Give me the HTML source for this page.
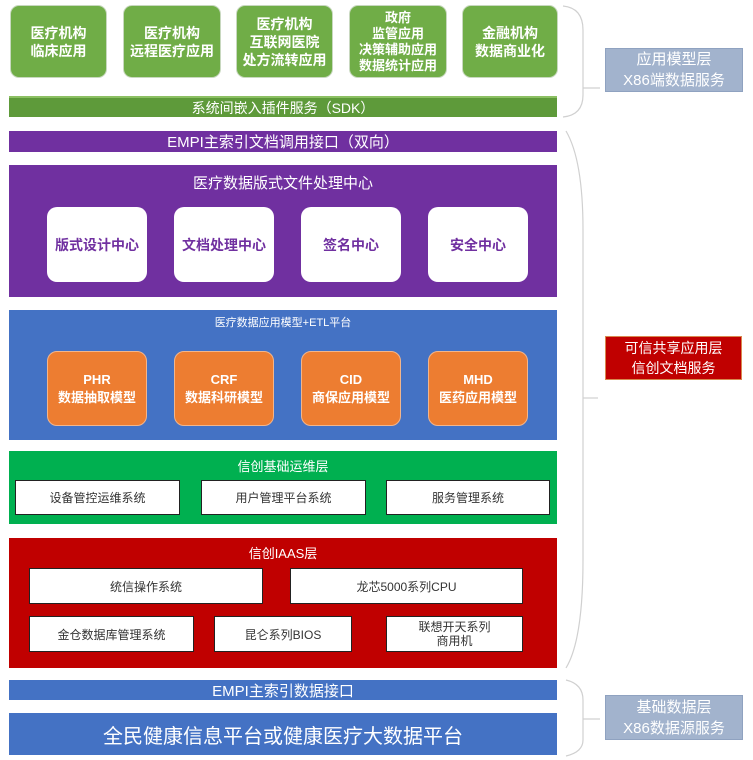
<!DOCTYPE html>
<html><head><meta charset="utf-8"><style>
*{margin:0;padding:0;box-sizing:border-box}
body{width:753px;height:760px;background:#fff;position:relative;overflow:hidden;font-family:"Liberation Sans","Noto Sans CJK SC",sans-serif}
.a{position:absolute;display:flex;align-items:center;justify-content:center;text-align:center}
.g{background:#70ad47;border:1px solid #c8d8bf;border-radius:9px;color:#fff;font-weight:bold;font-size:14px;line-height:18px}
.w{background:#fff;border-radius:10px;color:#7030a0;font-weight:bold;font-size:14px}
.o{background:#ed7d31;border:1px solid #f3b58a;border-radius:10px;color:#fff;font-weight:bold;font-size:13px;line-height:18px}
.b{background:#fff;border:1px solid #222;color:#333;font-size:12px}
.bar{color:#fff}
</style></head><body>
<div class="a g" style="left:10px;top:5px;width:97px;height:73px">医疗机构<br>临床应用</div>
<div class="a g" style="left:123px;top:5px;width:98px;height:73px">医疗机构<br>远程医疗应用</div>
<div class="a g" style="left:236px;top:5px;width:97px;height:73px">医疗机构<br>互联网医院<br>处方流转应用</div>
<div class="a g" style="left:349px;top:5px;width:98px;height:73px;line-height:16px;font-size:13px">政府<br>监管应用<br>决策辅助应用<br>数据统计应用</div>
<div class="a g" style="left:462px;top:5px;width:96px;height:73px">金融机构<br>数据商业化</div>
<div class="a bar" style="left:9px;top:96px;width:548px;height:21px;background:#5e9a3a;border-top:2px solid #8cc063;font-size:14px">系统间嵌入插件服务（SDK）</div>
<div class="a bar" style="left:9px;top:131px;width:548px;height:21px;background:#7030a0;font-size:15px">EMPI主索引文档调用接口（双向）</div>
<div style="position:absolute;left:9px;top:165px;width:548px;height:132px;background:#7030a0"></div>
<div class="a bar" style="left:9px;top:171px;width:548px;height:22px;font-size:15px">医疗数据版式文件处理中心</div>
<div class="a w" style="left:47px;top:207px;width:100px;height:75px">版式设计中心</div>
<div class="a w" style="left:174px;top:207px;width:100px;height:75px">文档处理中心</div>
<div class="a w" style="left:301px;top:207px;width:100px;height:75px">签名中心</div>
<div class="a w" style="left:428px;top:207px;width:100px;height:75px">安全中心</div>
<div style="position:absolute;left:9px;top:310px;width:548px;height:130px;background:#4472c4"></div>
<div class="a bar" style="left:9px;top:314px;width:548px;height:16px;font-size:11px">医疗数据应用模型+ETL平台</div>
<div class="a o" style="left:47px;top:351px;width:100px;height:75px">PHR<br>数据抽取模型</div>
<div class="a o" style="left:174px;top:351px;width:100px;height:75px">CRF<br>数据科研模型</div>
<div class="a o" style="left:301px;top:351px;width:100px;height:75px">CID<br>商保应用模型</div>
<div class="a o" style="left:428px;top:351px;width:100px;height:75px">MHD<br>医药应用模型</div>
<div style="position:absolute;left:9px;top:451px;width:548px;height:73px;background:#00b050"></div>
<div class="a bar" style="left:9px;top:456px;width:548px;height:18px;font-size:13px">信创基础运维层</div>
<div class="a b" style="left:15px;top:480px;width:165px;height:35px">设备管控运维系统</div>
<div class="a b" style="left:201px;top:480px;width:165px;height:35px">用户管理平台系统</div>
<div class="a b" style="left:386px;top:480px;width:164px;height:35px">服务管理系统</div>
<div style="position:absolute;left:9px;top:538px;width:548px;height:130px;background:#c00000"></div>
<div class="a bar" style="left:9px;top:543px;width:548px;height:18px;font-size:13px">信创IAAS层</div>
<div class="a b" style="left:29px;top:568px;width:234px;height:36px">统信操作系统</div>
<div class="a b" style="left:290px;top:568px;width:233px;height:36px">龙芯5000系列CPU</div>
<div class="a b" style="left:29px;top:616px;width:165px;height:36px">金仓数据库管理系统</div>
<div class="a b" style="left:214px;top:616px;width:138px;height:36px">昆仑系列BIOS</div>
<div class="a b" style="left:386px;top:616px;width:137px;height:36px;line-height:14px">联想开天系列<br>商用机</div>
<div class="a bar" style="left:9px;top:680px;width:548px;height:20px;background:#4472c4;font-size:15px">EMPI主索引数据接口</div>
<div class="a bar" style="left:9px;top:713px;width:548px;height:42px;background:#4472c4;font-size:20px">全民健康信息平台或健康医疗大数据平台</div>
<div class="a" style="left:605px;top:48px;width:138px;height:44px;background:#a2b3cd;border:1px solid #8fa2c0;color:#fff;font-size:15px;line-height:21px">应用模型层<br>X86端数据服务</div>
<div class="a" style="left:605px;top:336px;width:137px;height:44px;background:#c00000;border:1px solid #d8894f;color:#fff;font-size:14px;line-height:20px">可信共享应用层<br>信创文档服务</div>
<div class="a" style="left:605px;top:695px;width:138px;height:45px;background:#a2b3cd;border:1px solid #8fa2c0;color:#fff;font-size:15px;line-height:21px">基础数据层<br>X86数据源服务</div>
<svg style="position:absolute;left:0;top:0" width="753" height="760" fill="none" stroke="#d0d0d0" stroke-width="1.2">
<path d="M563 6 Q583 8 583 30 L583 95 Q583 115 563 117"/>
<path d="M583 88 L600 88"/>
<path d="M566 131 Q583 160 583 230 L583 560 Q583 640 566 668"/>
<path d="M583 398 L598 398"/>
<path d="M566 680 Q583 684 583 700 L583 740 Q583 752 566 756"/>
<path d="M583 719 L600 719"/>
</svg>
</body></html>
